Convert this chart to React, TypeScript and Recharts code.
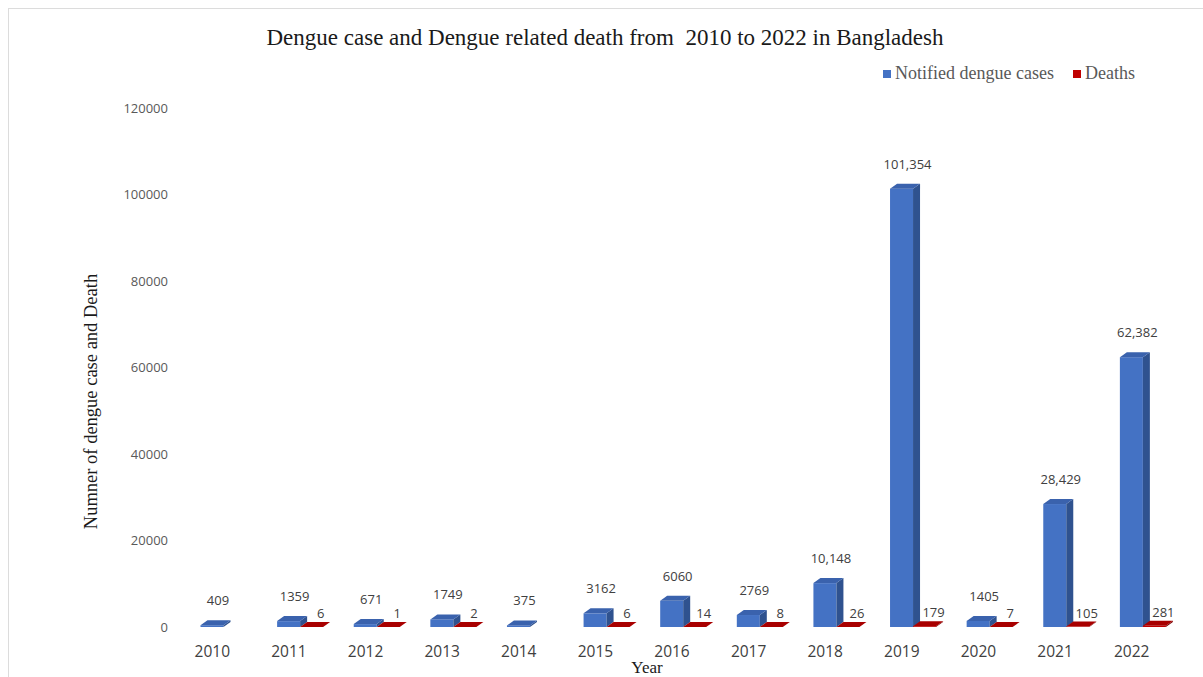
import { BarChart, Bar, XAxis, YAxis, Legend, LabelList, Label } from "recharts";

const title = "Dengue case and Dengue related death from  2010 to 2022 in Bangladesh";

const years = ["2010", "2011", "2012", "2013", "2014", "2015", "2016", "2017", "2018", "2019", "2020", "2021", "2022"];
const notifiedCases = [409, 1359, 671, 1749, 375, 3162, 6060, 2769, 10148, 101354, 1405, 28429, 62382];
const deaths = [null, 6, 1, 2, null, 6, 14, 8, 26, 179, 7, 105, 281];
const yTicks = [0, 20000, 40000, 60000, 80000, 100000, 120000];
const seriesNames = ["Notified dengue cases", "Deaths"];

const data = years.map((year, i) => ({ year, cases: notifiedCases[i], deaths: deaths[i] }));

// look of the excel-style 3d columns
const BAR = 23;
const SHIFT = BAR / 2; // blue column sits on the category centre, red one to its right
const DX = 7;
const DY = 5;

const blue = { front: "#4472C4", side: "#2F528F", top: "#3A62AD" };
const red = { front: "#C00000", side: "#7A0000", top: "#A80000" };

const tickFont = '"Open Sans", sans-serif';
const serif = '"Liberation Serif", "Times New Roman", serif';

function Column3D(props: any) {
  const { x, y, width, height, payload, valueKey, colors } = props;
  if (payload == null || payload[valueKey] == null || x == null) return null;
  const X = x + SHIFT;
  const h = Math.max(height || 0, 0);
  const w = width;
  return (
    <g>
      <rect x={X} y={y} width={w} height={h} fill={colors.front} />
      <polygon
        points={`${X + w},${y} ${X + w + DX},${y - DY} ${X + w + DX},${y + h - DY} ${X + w},${y + h}`}
        fill={colors.side}
      />
      <polygon
        points={`${X},${y} ${X + DX},${y - DY} ${X + w + DX},${y - DY} ${X + w},${y}`}
        fill={colors.top}
      />
    </g>
  );
}

const fmtCases = (v: number) => (v >= 10000 ? v.toLocaleString("en-US") : String(v));

function CaseLabel(props: any) {
  const { x, y, width, value } = props;
  if (value == null) return null;
  return (
    <text
      x={x + SHIFT + width / 2 + 6}
      y={y - 25}
      textAnchor="middle"
      dominantBaseline="central"
      fontSize={13}
      fontFamily={tickFont}
      fill="#404040"
    >
      {fmtCases(value)}
    </text>
  );
}

function DeathLabel(props: any) {
  const { x, y, width, value } = props;
  if (value == null) return null;
  return (
    <text
      x={x + SHIFT + width / 2 + 9}
      y={y - 14}
      textAnchor="middle"
      dominantBaseline="central"
      fontSize={13}
      fontFamily={tickFont}
      fill="#404040"
    >
      {value}
    </text>
  );
}

function LegendBox(props: any) {
  const items = [...(props.payload || [])].sort(
    (a: any, b: any) => seriesNames.indexOf(a.value) - seriesNames.indexOf(b.value)
  );
  return (
    <div style={{ display: "flex", alignItems: "center", fontFamily: serif, fontSize: 18, color: "#595959" }}>
      {items.map((it: any, i: number) => (
        <div key={i} style={{ display: "flex", alignItems: "center", marginRight: 19 }}>
          <span style={{ width: 8, height: 8, background: it.color, marginRight: 4, display: "inline-block" }} />
          <span>{it.value}</span>
        </div>
      ))}
    </div>
  );
}

export default function App() {
  return (
    <div style={{ position: "relative", width: 1203, height: 677, background: "#fff", overflow: "hidden" }}>
      <style>{"body{margin:0}"}</style>
      <div
        style={{
          position: "absolute",
          left: 8,
          top: 8,
          width: 1200,
          height: 700,
          borderLeft: "1px solid #dcdcdc",
          borderTop: "1px solid #dcdcdc",
        }}
      />
      <div
        style={{
          position: "absolute",
          top: 25,
          left: 0,
          width: 1210,
          textAlign: "center",
          fontFamily: serif,
          fontSize: 23,
          lineHeight: "26px",
          color: "#1a1a1a",
          whiteSpace: "pre",
        }}
      >
        {title}
      </div>
      <BarChart
        width={1203}
        height={677}
        data={data}
        margin={{ top: 108, right: 33, bottom: 0, left: 70 }}
        barSize={BAR}
        barGap={0}
        style={{ position: "absolute", left: 0, top: 0 }}
      >
        <XAxis
          dataKey="year"
          axisLine={false}
          tickLine={false}
          tickMargin={13}
          height={50}
          interval={0}
          tick={{ fontSize: 15.5, fill: "#404040", fontFamily: tickFont }}
        >
          <Label
            content={(p: any) => {
              const vb = p.viewBox;
              return (
                <text x={vb.x + vb.width / 2 - 25} y={vb.y + 46} textAnchor="middle" fontFamily={serif} fontSize={17} fill="#1a1a1a">
                  Year
                </text>
              );
            }}
          />
        </XAxis>
        <YAxis
          width={104}
          domain={[0, 120000]}
          ticks={yTicks}
          axisLine={false}
          tickLine={false}
          tickMargin={0}
          tick={{ fontSize: 13, fill: "#595959", fontFamily: tickFont }}
        >
          <Label
            content={(p: any) => {
              const vb = p.viewBox;
              const cx = vb.x + 21;
              const cy = vb.y + vb.height / 2 + 34;
              return (
                <text
                  x={cx}
                  y={cy}
                  transform={`rotate(-90, ${cx}, ${cy})`}
                  textAnchor="middle"
                  dominantBaseline="central"
                  fontFamily={serif}
                  fontSize={18.5}
                  fill="#1a1a1a"
                >
                  Numner of dengue case and Death
                </text>
              );
            }}
          />
        </YAxis>
        <Legend
          layout="horizontal"
          verticalAlign="middle"
          align="center"
          wrapperStyle={{ top: 63, left: 883, width: 300, height: 24 }}
          content={(p: any) => <LegendBox {...p} />}
        />
        <Bar
          dataKey="cases"
          name={seriesNames[0]}
          fill={blue.front}
          isAnimationActive={false}
          shape={(p: any) => <Column3D {...p} valueKey="cases" colors={blue} />}
        >
          <LabelList dataKey="cases" content={(p: any) => <CaseLabel {...p} />} />
        </Bar>
        <Bar
          dataKey="deaths"
          name={seriesNames[1]}
          fill={red.front}
          isAnimationActive={false}
          shape={(p: any) => <Column3D {...p} valueKey="deaths" colors={red} />}
        >
          <LabelList dataKey="deaths" content={(p: any) => <DeathLabel {...p} />} />
        </Bar>
      </BarChart>
    </div>
  );
}
